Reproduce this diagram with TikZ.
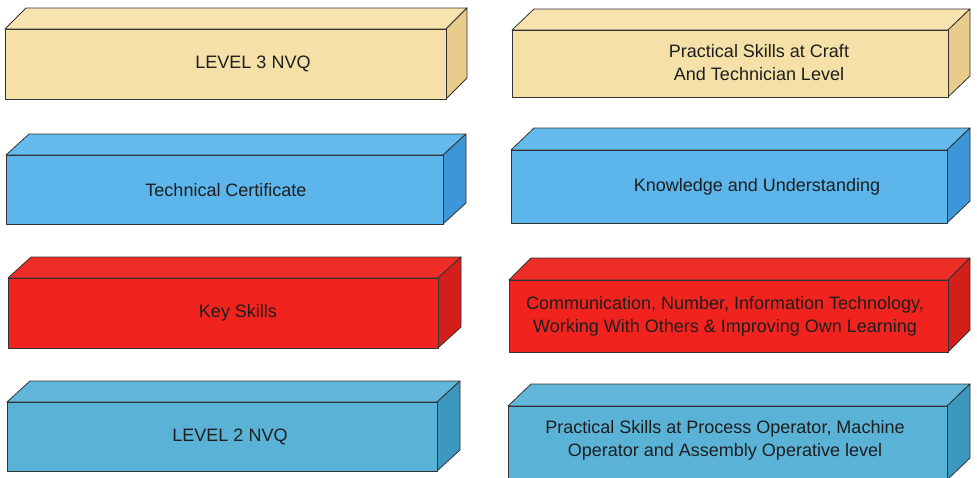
\documentclass[tikz,border=0pt]{standalone}
\usepackage{fontspec}
\setmainfont{Liberation Sans}
\definecolor{sandfront}{HTML}{F5E0A8}
\definecolor{sandtop}{HTML}{F6E3AE}
\definecolor{sandside}{HTML}{E9CB8C}
\definecolor{skyfront}{HTML}{5CB6EB}
\definecolor{skytop}{HTML}{64BAEC}
\definecolor{skyside}{HTML}{3C96D7}
\definecolor{redfront}{HTML}{F0231E}
\definecolor{redtop}{HTML}{EE2D26}
\definecolor{redside}{HTML}{D41E19}
\definecolor{tealfront}{HTML}{5AB2D7}
\definecolor{tealtop}{HTML}{62B6DA}
\definecolor{tealside}{HTML}{3D98C0}
\definecolor{inkgrey}{HTML}{1E1E1E}
\tikzset{
  edge/.style={draw=black!80, line width=0.8pt, line join=round},
  slabtext/.style={text=inkgrey, align=center, inner sep=0pt,
    font=\fontsize{18}{23}\selectfont}
}
% #1 name, #2 left, #3 top, #4 right, #5 bottom (front face),
% #6 depth in x, #7 depth in y, #8 colour family
\newcommand\slab[8]{%
  \coordinate (#1-nw) at (#2,#3);
  \coordinate (#1-se) at (#4,#5);
  \filldraw[edge, fill=#8top] (#2,#3) -- (#2+#6,#3-#7) -- (#4+#6,#3-#7) -- (#4,#3) -- cycle;
  \filldraw[edge, fill=#8side] (#4,#3) -- (#4+#6,#3-#7) -- (#4+#6,#5-#7) -- (#4,#5) -- cycle;
  \filldraw[edge, fill=#8front] (#1-nw) rectangle (#1-se);
}
\begin{document}
\begin{tikzpicture}[x=1pt,y=-1pt]
\useasboundingbox (0,0) rectangle (977,477);
\clip (0,0) rectangle (977,477);
\fill[white] (0,0) rectangle (977,477);

% left column
\slab{lthree}{5}{29}{446}{99}{21}{21}{sand}
\slab{tech}{6}{155}{443}{224}{23}{21}{sky}
\slab{key}{8}{278}{438}{348}{23}{21}{red}
\slab{ltwo}{7}{402}{437}{471}{23}{21}{teal}

% right column
\slab{craft}{512}{30}{948}{97}{22}{21}{sand}
\slab{know}{511}{150}{947}{223}{23}{22}{sky}
\slab{comm}{509}{280}{948}{352}{22}{22}{red}
\slab{oper}{508}{406}{947}{480}{23}{22}{teal}

\node[slabtext] (lthree-t) at (253,64) {LEVEL 3 NVQ};
\node[slabtext] (tech-t) at (226,190) {Technical Certificate};
\node[slabtext] (key-t) at (238,313) {Key Skills};
\node[slabtext] (ltwo-t) at (230,437) {LEVEL 2 NVQ};

\node[slabtext] (craft-t) at (759,63) {Practical Skills at Craft\\And Technician Level};
\node[slabtext] (know-t) at (757,187) {Knowledge and Understanding};
\node[slabtext] (comm-t) at (725,316) {Communication, Number, Information Technology,\\Working With Others \& Improving Own Learning};
\node[slabtext] (oper-t) at (725,440) {Practical Skills at Process Operator, Machine\\Operator and Assembly Operative level};
\end{tikzpicture}
\end{document}
